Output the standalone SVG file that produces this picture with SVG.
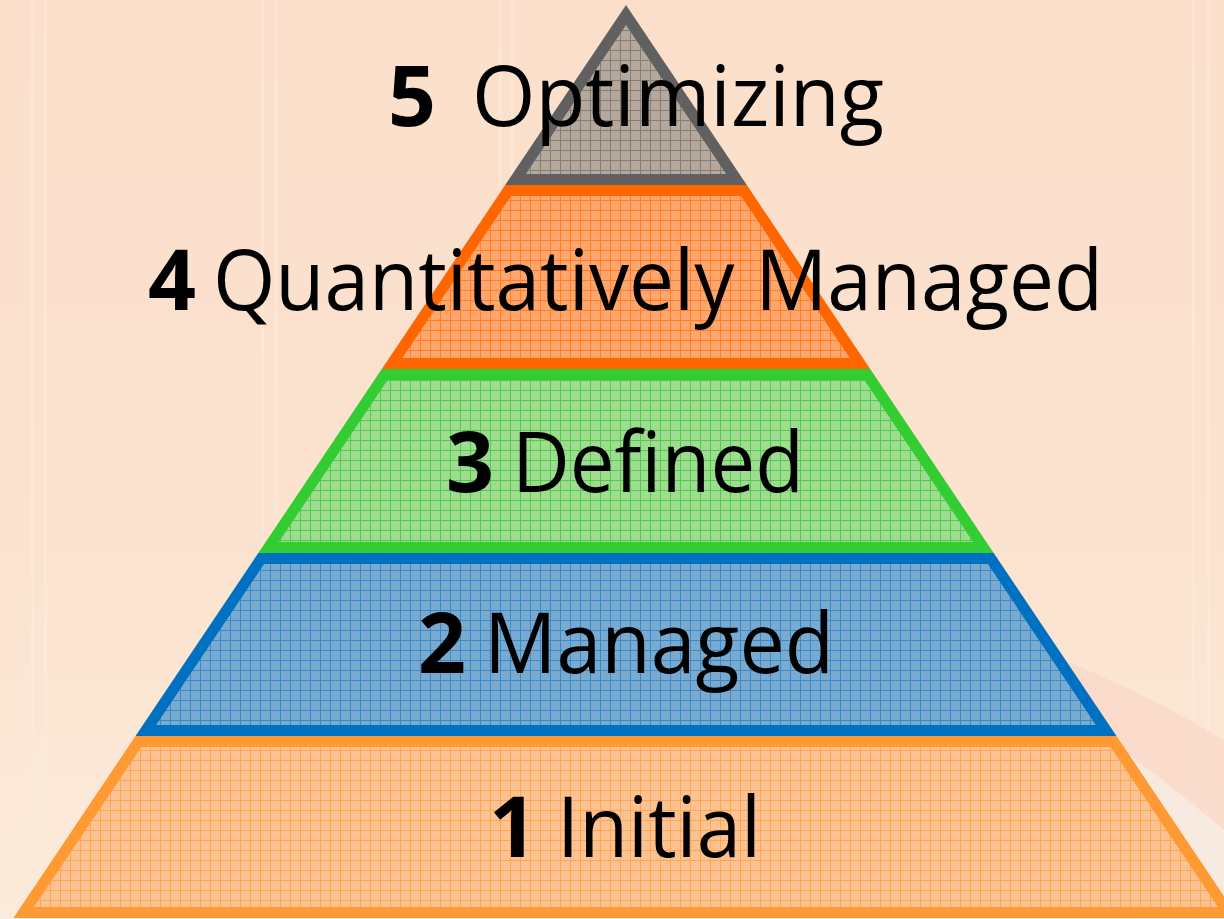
<svg xmlns="http://www.w3.org/2000/svg" width="1224" height="919" viewBox="0 0 1224 919">
<defs>
<linearGradient id="bg" x1="0" y1="0" x2="0" y2="1">
<stop offset="0" stop-color="#FBDFCB"/>
<stop offset="0.6" stop-color="#FBE3CF"/>
<stop offset="1" stop-color="#FCEBDA"/>
</linearGradient>
<pattern id="p5" patternUnits="userSpaceOnUse" width="10" height="10">
<rect width="10" height="10" fill="#B5A89D"/>
<path d="M0 0.5H10M0.5 0V10" stroke="#887D74" stroke-width="1"/>
</pattern>
<pattern id="p4" patternUnits="userSpaceOnUse" width="10" height="10">
<rect width="10" height="10" fill="#FFA66C"/>
<path d="M0 0.5H10M0.5 0V10" stroke="#FF7E2A" stroke-width="1"/>
</pattern>
<pattern id="p3" patternUnits="userSpaceOnUse" width="10" height="10">
<rect width="10" height="10" fill="#9EDD8F"/>
<path d="M0 0.5H10M0.5 0V10" stroke="#52CA50" stroke-width="1"/>
</pattern>
<pattern id="p2" patternUnits="userSpaceOnUse" width="10" height="10">
<rect width="10" height="10" fill="#79AACF"/>
<path d="M0 0.5H10M0.5 0V10" stroke="#3A89C8" stroke-width="1"/>
</pattern>
<pattern id="p1" patternUnits="userSpaceOnUse" width="10" height="10">
<rect width="10" height="10" fill="#FCC291"/>
<path d="M0 0.5H10M0.5 0V10" stroke="#FFA652" stroke-width="1"/>
</pattern>
</defs>
<style>
.num{font-family:"Open Sans","Noto Sans",sans-serif;font-weight:700;font-size:84px;fill:#000}
.lbl{font-family:"Open Sans","Noto Sans",sans-serif;font-weight:400;font-size:84px;fill:#000}
.stripe{fill:#FDEEDD;opacity:0.45}
</style>
<g id="background">
<rect width="1224" height="919" fill="url(#bg)"/>
<rect class="stripe" x="31" y="0" width="3" height="919"/>
<rect class="stripe" x="44" y="0" width="3" height="919"/>
<rect class="stripe" x="261" y="0" width="3" height="919"/>
<rect class="stripe" x="274" y="0" width="3" height="919"/>
<rect class="stripe" x="499" y="0" width="3" height="200"/>
<rect class="stripe" x="511" y="0" width="3" height="200"/>
<rect class="stripe" x="1192" y="0" width="3" height="919"/>
<rect class="stripe" x="1207" y="0" width="3" height="919"/>
<path d="M1040 650 Q1140 690 1224 740 L1224 830 Q1140 760 1080 720 Z" fill="#FBCFC0" opacity="0.45"/>
<path d="M1080 720 Q1140 760 1224 830 L1224 919 L1140 919 Q1120 800 1080 720 Z" fill="#F4ECEA" opacity="0.45"/>
</g>
<g id="level1">
<polygon points="135.5,736 1116.5,736 1238.6,918 13.4,918" fill="#FF9933"/>
<polygon points="141.3,747 1110.7,747 1218,907 34,907" fill="url(#p1)"/>
<text class="num" x="489" y="857">1</text>
<text class="lbl" x="557" y="857" textLength="204" lengthAdjust="spacingAndGlyphs">Initial</text>
</g>
<g id="level2">
<polygon points="258.3,553 993.7,553 1116.5,736 135.5,736" fill="#0070C0"/>
<polygon points="264.1,564 987.9,564 1095.9,725 156.1,725" fill="url(#p2)"/>
<text class="num" x="418" y="673">2</text>
<text class="lbl" x="484" y="673" textLength="350" lengthAdjust="spacingAndGlyphs">Managed</text>
</g>
<g id="level3">
<polygon points="381.8,369 870.2,369 993.7,553 258.3,553" fill="#33CC33"/>
<polygon points="387.6,380 864.4,380 973.1,542 278.9,542" fill="url(#p3)"/>
<text class="num" x="446" y="492">3</text>
<text class="lbl" x="512" y="492" textLength="292" lengthAdjust="spacingAndGlyphs">Defined</text>
</g>
<g id="level4">
<polygon points="505.2,185 746.8,185 870.2,369 381.8,369" fill="#FF6600"/>
<polygon points="511,196 741,196 849.7,358 402.3,358" fill="url(#p4)"/>
<text class="num" x="148" y="310">4</text>
<text class="lbl" x="213" y="310" textLength="890" lengthAdjust="spacingAndGlyphs">Quantitatively Managed</text>
</g>
<g id="level5">
<polygon points="626,5 746.8,185 505.2,185" fill="#606060"/>
<polygon points="626,25 726.2,174 525.8,174" fill="url(#p5)"/>
<text class="num" x="388" y="126">5</text>
<text class="lbl" x="472" y="126" textLength="412" lengthAdjust="spacingAndGlyphs">Optimizing</text>
</g>
</svg>
